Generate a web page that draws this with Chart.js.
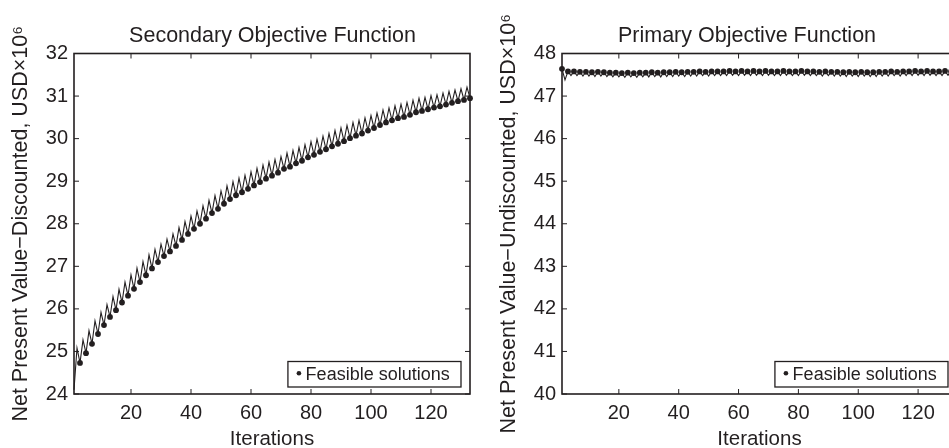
<!DOCTYPE html>
<html>
<head>
<meta charset="utf-8">
<script src="https://cdn.jsdelivr.net/npm/chart.js@4.4.1/dist/chart.umd.min.js"></script>
<style>
  html, body { margin: 0; padding: 0; background: #fff; overflow: hidden; }
  #wrap { position: relative; width: 949px; height: 448px; overflow: hidden; background: #fff; }
  #secondaryChart { position: absolute; left: 0; top: 0; }
  #primaryChart { position: absolute; left: 480px; top: 0; }
</style>
</head>
<body>
<div id="wrap">
  <canvas id="secondaryChart" width="545" height="460"></canvas>
  <canvas id="primaryChart" width="534" height="460"></canvas>
</div>
<script>
// Secondary objective (discounted NPV, USD x 10^6)
var secondaryStart = 24.1; // iteration 1
// rejected trials, iterations 2, 4, ..., 132
var secondaryTrials = [
    25.08, 25.27, 25.49, 25.72, 25.92, 26.10, 26.29, 26.46, 26.63, 26.80,
    26.96, 27.11, 27.27, 27.40, 27.52, 27.64, 27.76, 27.91, 28.05, 28.18,
    28.30, 28.42, 28.55, 28.66, 28.77, 28.89, 28.99, 29.07, 29.14, 29.22,
    29.30, 29.38, 29.45, 29.51, 29.58, 29.66, 29.72, 29.79, 29.86, 29.93,
    29.99, 30.06, 30.12, 30.19, 30.25, 30.31, 30.38, 30.43, 30.49, 30.54,
    30.60, 30.67, 30.72, 30.77, 30.81, 30.85, 30.90, 30.95, 30.97, 31.01,
    31.03, 31.07, 31.11, 31.14, 31.17, 31.21
];
// feasible solutions, iterations 3, 5, ..., 133
var secondaryFeasible = [
    24.73, 24.96, 25.18, 25.41, 25.62, 25.81, 25.97, 26.15, 26.31, 26.47,
    26.63, 26.79, 26.95, 27.10, 27.24, 27.35, 27.48, 27.62, 27.76, 27.88,
    28.00, 28.12, 28.25, 28.35, 28.47, 28.58, 28.67, 28.74, 28.82, 28.90,
    28.98, 29.06, 29.13, 29.20, 29.29, 29.34, 29.42, 29.48, 29.56, 29.62,
    29.69, 29.75, 29.82, 29.88, 29.94, 30.01, 30.07, 30.12, 30.19, 30.25,
    30.32, 30.38, 30.43, 30.48, 30.51, 30.56, 30.62, 30.65, 30.69, 30.73,
    30.76, 30.80, 30.84, 30.88, 30.91, 30.95
];

// Primary objective (undiscounted NPV, USD x 10^6)
var primaryStart = 47.64; // iteration 1, feasible
var primaryTrials = [
    47.38, 47.48, 47.48, 47.47, 47.47, 47.46, 47.47, 47.46, 47.45, 47.45,
    47.44, 47.45, 47.44, 47.45, 47.45, 47.46, 47.45, 47.46, 47.46, 47.47,
    47.46, 47.47, 47.47, 47.48, 47.47, 47.48, 47.48, 47.48, 47.49, 47.48,
    47.49, 47.48, 47.49, 47.48, 47.49, 47.48, 47.48, 47.49, 47.48, 47.48,
    47.49, 47.48, 47.48, 47.47, 47.48, 47.47, 47.47, 47.46, 47.47, 47.46,
    47.47, 47.46, 47.46, 47.47, 47.47, 47.48, 47.47, 47.48, 47.48, 47.49,
    47.48, 47.49, 47.48, 47.48, 47.49, 47.48
];
var primaryFeasible = [
    47.58, 47.58, 47.57, 47.57, 47.56, 47.57, 47.56, 47.55, 47.55, 47.54,
    47.55, 47.54, 47.55, 47.55, 47.56, 47.55, 47.56, 47.56, 47.57, 47.56,
    47.57, 47.57, 47.58, 47.57, 47.58, 47.58, 47.58, 47.59, 47.58, 47.59,
    47.58, 47.59, 47.58, 47.59, 47.58, 47.58, 47.59, 47.58, 47.58, 47.59,
    47.58, 47.58, 47.57, 47.58, 47.57, 47.57, 47.56, 47.57, 47.56, 47.57,
    47.56, 47.56, 47.57, 47.57, 47.58, 47.57, 47.58, 47.58, 47.59, 47.58,
    47.59, 47.58, 47.58, 47.59, 47.58, 47.58
];

var xTicks = [20, 40, 60, 80, 100, 120];
var secondaryYTicks = [24, 25, 26, 27, 28, 29, 30, 31, 32];
var primaryYTicks = [40, 41, 42, 43, 44, 45, 46, 47, 48];

var ink = '#231f20';
var fontFamily = '"Liberation Sans", Arial, Helvetica, sans-serif';
Chart.defaults.font.family = fontFamily;
Chart.defaults.color = ink;

// interleave trials and feasible points into one run
function buildRun(start, startFeasible, trials, feasible) {
    var line = [{x: 1, y: start}];
    var dots = startFeasible ? [{x: 1, y: start}] : [];
    for (var i = 0; i < trials.length; i++) {
        line.push({x: 2 * i + 2, y: trials[i]});
        if (i < feasible.length) {
            line.push({x: 2 * i + 3, y: feasible[i]});
            dots.push({x: 2 * i + 3, y: feasible[i]});
        }
    }
    return {line: line, dots: dots};
}

// box with inward ticks on all sides + legend in lower right
var framePlugin = {
    id: 'frame',
    afterDatasetsDraw: function(chart) {
        var a = chart.chartArea, ctx = chart.ctx;
        var xs = chart.scales.x, ys = chart.scales.y;
        ctx.save();
        ctx.strokeStyle = ink;
        ctx.lineWidth = 1.6;
        ctx.strokeRect(a.left, a.top, a.right - a.left, a.bottom - a.top);
        ctx.lineWidth = 1;
        ctx.beginPath();
        xs.ticks.forEach(function(t) {
            var px = xs.getPixelForValue(t.value);
            ctx.moveTo(px, a.bottom); ctx.lineTo(px, a.bottom - 5);
            ctx.moveTo(px, a.top); ctx.lineTo(px, a.top + 5);
        });
        ys.ticks.forEach(function(t) {
            var py = ys.getPixelForValue(t.value);
            ctx.moveTo(a.left, py); ctx.lineTo(a.left + 5, py);
            ctx.moveTo(a.right, py); ctx.lineTo(a.right - 5, py);
        });
        ctx.stroke();

        // legend
        var label = chart.data.datasets[1].label;
        ctx.font = '18px ' + fontFamily;
        var tw = ctx.measureText(label).width;
        var w = tw + 29, h = 25.5;
        var bx = a.right - 9 - w, by = a.bottom - 7 - h;
        ctx.fillStyle = '#fff';
        ctx.fillRect(bx, by, w, h);
        ctx.lineWidth = 1.3;
        ctx.strokeRect(bx, by, w, h);
        ctx.fillStyle = ink;
        ctx.beginPath();
        ctx.arc(bx + 11, by + h / 2 - 1, 2.3, 0, 2 * Math.PI);
        ctx.fill();
        ctx.textBaseline = 'middle';
        ctx.textAlign = 'left';
        ctx.fillText(label, bx + 17.7, by + h / 2 + 0.5);
        ctx.restore();
    }
};

function makeChart(id, run, o) {
    return new Chart(document.getElementById(id), {
        type: 'line',
        data: {
            datasets: [{
                label: 'Objective',
                data: run.line,
                borderColor: ink,
                borderWidth: 1.1,
                pointRadius: 0,
                tension: 0,
                clip: 6
            }, {
                label: 'Feasible solutions',
                data: run.dots,
                showLine: false,
                pointRadius: 2.9,
                pointBackgroundColor: ink,
                pointBorderWidth: 0,
                clip: 6
            }]
        },
        options: {
            responsive: false,
            animation: false,
            layout: { padding: 0 },
            plugins: {
                legend: { display: false },
                tooltip: { enabled: false },
                title: {
                    display: true,
                    text: o.title,
                    fullSize: true,
                    color: ink,
                    font: { size: 21.5, weight: 'normal', lineHeight: 1 },
                    padding: { top: 25.3, bottom: 6.7 }
                }
            },
            scales: {
                x: {
                    type: 'linear',
                    min: 1,
                    max: 133,
                    afterBuildTicks: function(s) { s.ticks = xTicks.map(function(v) { return {value: v}; }); },
                    afterFit: function(s) { s.height = 66; },
                    grid: { display: false, drawTicks: false },
                    border: { display: false },
                    ticks: { font: { size: 20 }, padding: 7, maxRotation: 0, autoSkip: false },
                    title: { display: true, text: 'Iterations', font: { size: 20.5 }, padding: { top: 0, bottom: 8 } }
                },
                y: {
                    min: o.yTicks[0],
                    max: o.yTicks[o.yTicks.length - 1],
                    afterBuildTicks: function(s) { s.ticks = o.yTicks.map(function(v) { return {value: v}; }); },
                    afterFit: function(s) { s.width = o.leftWidth; },
                    grid: { display: false, drawTicks: false },
                    border: { display: false },
                    ticks: { font: { size: 20 }, padding: 6 },
                    title: { display: true, text: o.yTitle, font: { size: 21.5 }, padding: { top: o.yTitlePad, bottom: 0 } }
                },
                pad: {
                    position: 'right',
                    display: true,
                    afterFit: function(s) { s.width = o.rightWidth; },
                    grid: { display: false, drawTicks: false },
                    border: { display: false },
                    ticks: { display: false }
                }
            }
        },
        plugins: [framePlugin]
    });
}

document.addEventListener('DOMContentLoaded', function() {
    makeChart('secondaryChart',
        buildRun(secondaryStart, false, secondaryTrials, secondaryFeasible), {
            title: 'Secondary Objective Function',
            yTitle: 'Net Present Value\u2212Discounted, USD\u00d710\u2076',
            yTicks: secondaryYTicks,
            leftWidth: 74,
            rightWidth: 75,
            yTitlePad: 7.8
        });
    makeChart('primaryChart',
        buildRun(primaryStart, true, primaryTrials, primaryFeasible), {
            title: 'Primary Objective Function',
            yTitle: 'Net Present Value\u2212Undiscounted, USD\u00d710\u2076',
            yTicks: primaryYTicks,
            leftWidth: 82,
            rightWidth: 57,
            yTitlePad: 16.1
        });
});
</script>
</body>
</html>
